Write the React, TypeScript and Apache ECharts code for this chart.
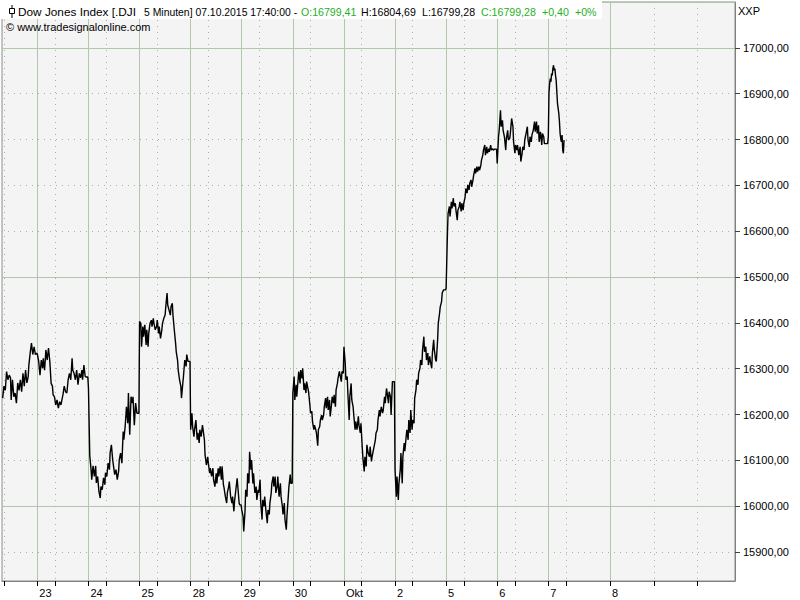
import React, { useEffect, useRef } from "react";
import * as echarts from "echarts";

// ---- data ----
const dayLabels = ["22", "23", "24", "25", "28", "29", "30", "Okt", "2", "5", "6", "7"];

const sep22 = [16236, 16262, 16253, 16294, 16276, 16286, 16280, 16232, 16276, 16239, 16247, 16225, 16269, 16253, 16276, 16250, 16290, 16262, 16297, 16269, 16283, 16308, 16334, 16356, 16331, 16348, 16331, 16334];
const sep23 = [16332, 16316, 16286, 16319, 16301, 16323, 16297, 16341, 16319, 16345, 16316, 16268, 16262, 16243, 16239, 16221, 16232, 16214, 16228, 16221, 16236, 16243, 16262, 16250, 16247, 16276, 16290, 16276, 16323, 16297, 16290, 16276, 16297, 16265, 16290, 16280, 16297, 16276, 16308, 16283, 16282, 16282];
const sep24 = [16257, 16110, 16080, 16058, 16088, 16065, 16088, 16051, 16065, 16032, 16018, 16043, 16036, 16062, 16047, 16073, 16065, 16094, 16080, 16116, 16134, 16101, 16080, 16069, 16080, 16058, 16076, 16101, 16116, 16094, 16163, 16145, 16174, 16217, 16181, 16247, 16156, 16239, 16225, 16239, 16177, 16225, 16203, 16203, 16203];
const sep25 = [16403, 16399, 16348, 16392, 16370, 16396, 16352, 16385, 16348, 16377, 16399, 16406, 16392, 16410, 16399, 16385, 16392, 16406, 16377, 16392, 16366, 16385, 16399, 16410, 16417, 16435, 16465, 16439, 16428, 16417, 16435, 16443, 16417, 16385, 16356, 16337, 16319, 16297, 16276, 16262, 16236, 16268, 16283, 16319, 16305, 16331, 16316, 16316, 16316];
const sep28 = [16167, 16203, 16174, 16152, 16167, 16188, 16145, 16160, 16138, 16167, 16152, 16177, 16167, 16145, 16112, 16090, 16108, 16094, 16072, 16083, 16065, 16083, 16058, 16043, 16072, 16050, 16083, 16065, 16087, 16058, 16087, 16047, 16040, 16021, 16007, 16029, 16043, 16054, 16021, 16007, 16021, 15989, 16011, 16036, 16061, 16043, 16007, 16003, 16003];
const sep29 = [15992, 15978, 15945, 15989, 16036, 16021, 16072, 16050, 16119, 16080, 16101, 16050, 16072, 16029, 16043, 16014, 16036, 16029, 16058, 16007, 15971, 16014, 16000, 16021, 15989, 15963, 15992, 15982, 16007, 16029, 16050, 16065, 16043, 16065, 16029, 16043, 16065, 16021, 16050, 16021, 16000, 15982, 16007, 15971, 15949, 15978, 16021, 16043, 16069, 16050, 16050];
const sep30 = [16247, 16283, 16232, 16265, 16239, 16276, 16294, 16268, 16297, 16279, 16301, 16254, 16268, 16247, 16272, 16257, 16250, 16221, 16203, 16207, 16185, 16167, 16177, 16167, 16160, 16132, 16167, 16174, 16188, 16199, 16188, 16199, 16217, 16236, 16214, 16239, 16210, 16232, 16196, 16221, 16239, 16225, 16243, 16217, 16254, 16268, 16279, 16294, 16287, 16272, 16294, 16290];
const oct1 = [16348, 16312, 16276, 16283, 16247, 16188, 16239, 16268, 16232, 16217, 16199, 16167, 16185, 16167, 16196, 16177, 16160, 16181, 16127, 16105, 16076, 16108, 16087, 16134, 16116, 16108, 16130, 16098, 16108, 16123, 16130, 16145, 16160, 16167, 16188, 16210, 16196, 16217, 16203, 16210, 16239, 16225, 16257, 16247, 16225, 16250, 16239, 16199, 16272, 16272, 16272];
const oct2 = [16080, 16021, 16065, 16014, 16050, 16080, 16116, 16050, 16109, 16138, 16120, 16152, 16167, 16145, 16188, 16160, 16210, 16167, 16188, 16181, 16236, 16254, 16276, 16265, 16290, 16301, 16319, 16308, 16341, 16370, 16337, 16348, 16319, 16334, 16308, 16327, 16316, 16301, 16334, 16363, 16341, 16319, 16316, 16363, 16399, 16421, 16435, 16446, 16465, 16472, 16472, 16472];
const oct5 = [16476, 16595, 16639, 16654, 16632, 16664, 16650, 16672, 16654, 16661, 16646, 16624, 16646, 16654, 16664, 16643, 16661, 16646, 16661, 16675, 16693, 16683, 16701, 16690, 16704, 16712, 16697, 16712, 16722, 16737, 16726, 16741, 16730, 16741, 16733, 16744, 16755, 16766, 16777, 16788, 16766, 16784, 16770, 16780, 16773, 16788, 16777, 16780, 16777, 16779, 16779, 16779];
const oct6 = [16748, 16806, 16820, 16864, 16828, 16842, 16820, 16806, 16777, 16802, 16820, 16799, 16802, 16813, 16846, 16828, 16795, 16770, 16788, 16777, 16788, 16766, 16784, 16752, 16770, 16784, 16777, 16799, 16813, 16828, 16799, 16784, 16806, 16795, 16810, 16820, 16839, 16817, 16839, 16813, 16831, 16795, 16817, 16788, 16813, 16806, 16791, 16791, 16791, 16791];
const oct7 = [16806, 16901, 16922, 16933, 16926, 16944, 16940, 16955, 16962, 16951, 16955, 16940, 16929, 16904, 16879, 16868, 16857, 16839, 16813, 16802, 16795, 16810, 16777, 16770, 16799];

const dayValues = [sep22, sep23, sep24, sep25, sep28, sep29, sep30, oct1, oct2, oct5, oct6, oct7];
// first / last 5-minute bar of each session covered by the readings
const daySpans = [[25, 77], [0, 77], [0, 77], [0, 77], [0, 77], [0, 77], [0, 77], [0, 77], [0, 77], [0, 77], [0, 77], [0, 24]];

const futureLabels = ["8"];
const futureMajorBars = [94]; // bars after last session open
const futureMinorBars = [161, 228];

const BARS_PER_DAY = 78;
const FIRST_VISIBLE_BAR = 24;
const FUTURE_BARS = 208;
const MINOR_OFFSET = 27;

const Y_MIN = 15837;
const Y_MAX = 17100;

const headerTitle = "Dow Jones Index [.DJI";
const headerInterval = "5 Minuten] 07.10.2015 17:40:00 -";
const headerOpen = "O:16799,41";
const headerHigh = "H:16804,69";
const headerLow = "L:16799,28";
const headerClose = "C:16799,28";
const headerChange = "+0,40";
const headerPct = "+0%";
const copyright = "\u00A9 www.tradesignalonline.com";
const unitLabel = "XXP";

const FONT = "'Liberation Sans', Arial, sans-serif";
const GREEN_TXT = "#1fb01f";
const SOLID = "#b0c7ac";
const DOTTED = "#9fb99c";

export default function App() {
  const ref = useRef<HTMLDivElement>(null);

  useEffect(() => {
    if (!ref.current) return;
    const chart = echarts.init(ref.current, undefined, { renderer: "svg" });

    const dayStart = (k: number) => k * BARS_PER_DAY - FIRST_VISIBLE_BAR;
    const lastOpen = dayStart(dayValues.length - 1);
    const N = dayValues.length * BARS_PER_DAY - FIRST_VISIBLE_BAR + FUTURE_BARS;
    const cats: string[] = [];
    for (let i = 0; i < N; i++) cats.push(String(i));

    const labelMap: Record<number, string> = {};
    const major = new Set<number>();
    const minor = new Set<number>();
    dayLabels.forEach((lab, k) => {
      const s = dayStart(k);
      if (s >= 0) {
        major.add(s);
        labelMap[s] = lab;
      }
      if (s + MINOR_OFFSET >= 0) minor.add(s + MINOR_OFFSET);
    });
    futureMajorBars.forEach((b, j) => {
      major.add(lastOpen + b);
      labelMap[lastOpen + b] = futureLabels[j];
    });
    futureMinorBars.forEach((b) => minor.add(lastOpen + b));

    const data: [number, number][] = [];
    dayValues.forEach((arr, k) => {
      const [a, b] = daySpans[k];
      const n = arr.length;
      arr.forEach((v, i) => {
        const idx = dayStart(k) + a + Math.round((i * (b - a)) / (n - 1));
        data.push([idx, v]);
      });
    });

    const fmtY = (v: number) => v.toFixed(2).replace(".", ",");
    const txt = (text: string, x: number, y: number, fill = "#000", size = 11) => ({
      type: "text",
      x,
      y,
      z: 20,
      style: { text, fill, fontSize: size, fontFamily: FONT, verticalAlign: "middle" },
    });

    chart.setOption({
      animation: false,
      backgroundColor: "#ffffff",
      grid: {
        left: 2,
        right: 65,
        top: 2,
        bottom: 19,
        show: true,
        backgroundColor: "#f4f4f4",
        borderColor: "#8a8a8a",
        borderWidth: 1,
      },
      xAxis: [
        {
          type: "category",
          data: cats,
          boundaryGap: false,
          position: "bottom",
          axisLine: { show: true, lineStyle: { color: "#808080", width: 1 } },
          axisTick: {
            show: true,
            interval: (i: number) => major.has(i),
            length: 5,
            lineStyle: { color: "#000" },
          },
          axisLabel: {
            interval: (i: number) => major.has(i),
            formatter: (v: string) => labelMap[Number(v)] ?? "",
            align: "left",
            padding: [0, 0, 0, 2],
            margin: 6,
            color: "#000",
            fontSize: 11,
            fontFamily: FONT,
          },
          splitLine: {
            show: true,
            interval: (i: number) => major.has(i),
            lineStyle: { color: SOLID, width: 1 },
          },
        },
        {
          type: "category",
          data: cats,
          boundaryGap: false,
          position: "bottom",
          axisLine: { show: false },
          axisTick: {
            show: true,
            interval: (i: number) => minor.has(i),
            length: 5,
            lineStyle: { color: "#000" },
          },
          axisLabel: { show: false },
          splitLine: {
            show: true,
            interval: (i: number) => minor.has(i),
            lineStyle: { color: DOTTED, width: 1, type: [1, 5] },
          },
        },
      ],
      yAxis: [
        {
          type: "value",
          position: "right",
          min: Y_MIN,
          max: Y_MAX,
          splitNumber: 13,
          axisLine: { show: true, lineStyle: { color: "#808080" } },
          axisTick: { show: true, length: 5, lineStyle: { color: "#404040" } },
          axisLabel: {
            showMinLabel: false,
            showMaxLabel: false,
            formatter: fmtY,
            color: "#000",
            fontSize: 11,
            fontFamily: FONT,
            margin: 8,
          },
          splitLine: { show: true, lineStyle: { color: DOTTED, width: 1, type: [1, 5] } },
        },
        {
          type: "value",
          position: "right",
          min: Y_MIN,
          max: Y_MAX,
          splitNumber: 3,
          axisLine: { show: false },
          axisTick: { show: false },
          axisLabel: { show: false },
          splitLine: { show: true, lineStyle: { color: SOLID, width: 1 } },
        },
      ],
      series: [
        {
          type: "line",
          xAxisIndex: 0,
          yAxisIndex: 0,
          data,
          showSymbol: false,
          symbol: "none",
          lineStyle: { color: "#000", width: 1.4 },
          z: 5,
        },
      ],
      graphic: [
        { type: "rect", z: 15, shape: { x: 0, y: 0, width: 602, height: 19 }, style: { fill: "#ffffff" } },
        { type: "line", z: 16, shape: { x1: 12, y1: 5, x2: 12, y2: 18 }, style: { stroke: "#000", lineWidth: 1 } },
        { type: "rect", z: 17, shape: { x: 9.5, y: 8.5, width: 5, height: 5 }, style: { fill: "#fff", stroke: "#000", lineWidth: 1 } },
        txt(headerTitle, 18, 12, "#000", 11.8),
        txt(headerInterval, 144, 12, "#000", 10.4),
        txt(headerOpen, 301, 12, GREEN_TXT, 10.6),
        txt(headerHigh, 361, 12, "#000", 10.6),
        txt(headerLow, 422, 12, "#000", 10.6),
        txt(headerClose, 481, 12, GREEN_TXT, 10.6),
        txt(headerChange, 542, 12, GREEN_TXT, 10.6),
        txt(headerPct, 575, 12, GREEN_TXT, 10.6),
        txt(copyright, 6, 27),
        txt(unitLabel, 738, 11),
      ],
    });

    return () => chart.dispose();
  }, []);

  return (
    <div
      ref={ref}
      style={{ position: "absolute", left: 0, top: 0, width: 800, height: 600, background: "#fff" }}
    />
  );
}
